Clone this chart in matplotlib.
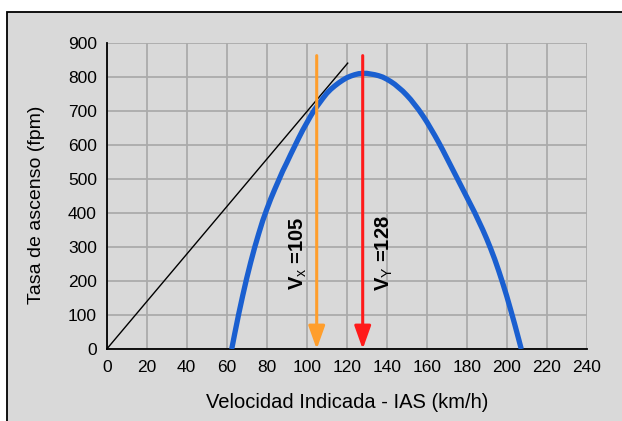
import numpy as np
import matplotlib.pyplot as plt
from matplotlib.patches import Rectangle

plt.rcParams['font.family'] = ['Liberation Sans', 'DejaVu Sans']
plt.rcParams['mathtext.fontset'] = 'custom'
plt.rcParams['mathtext.rm'] = 'Liberation Sans'
plt.rcParams['mathtext.bf'] = 'Liberation Sans:bold'

# rate of climb curve
ias = [62.5, 64, 66, 68, 70, 72, 74, 76, 78, 80, 82, 84, 86, 88, 90, 92, 94, 96, 98,
       100, 102, 104, 106, 108, 110, 112, 114, 116, 118, 120, 122, 124, 126, 128,
       130, 132, 134, 136, 138, 140, 142, 144, 146, 148, 150, 152, 154, 156, 158,
       160, 162, 164, 166, 168, 170, 172, 174, 176, 178, 180, 182, 184, 186, 188,
       190, 192, 194, 196, 198, 200, 202, 204, 206, 207.3]
roc = [0, 45, 103, 157, 208, 255, 299, 339, 377, 410, 441, 469, 496, 523, 547, 572, 596, 620, 643,
       664, 685, 704, 720, 736, 751, 763, 773, 782, 790, 797, 802, 806, 809, 810,
       810, 808, 806, 803, 799, 793, 786, 778, 768, 758, 746, 733, 718, 703, 686,
       668, 648, 628, 607, 585, 562, 539, 516, 493, 470, 447, 424, 401, 376, 351,
       324, 295, 264, 230, 194, 156, 115, 73, 29, 0]

tangent_x = [0, 120.5]
tangent_y = [0, 840]

vx = 105
vy = 128
arrow_top = 862

xticks = list(range(0, 241, 20))
yticks = list(range(0, 901, 100))

fig = plt.figure(figsize=(6.22, 4.21), dpi=100)
fig.patches.append(Rectangle((7 / 622, -0.1), 1.2, 1.1 - 12 / 421,
                             transform=fig.transFigure, facecolor='#d9d9d9',
                             edgecolor='black', linewidth=1.3, zorder=-5))
ax = fig.add_axes([106.7 / 622, 71.9 / 421, 480 / 622, 306.4 / 421])
ax.set_facecolor('#d9d9d9')

ax.set_xlim(0, 240)
ax.set_ylim(0, 900)
ax.set_xticks(xticks)
ax.set_yticks(yticks)
ax.grid(True, color='#ababab', linewidth=1.3)
ax.set_axisbelow(True)
for s in ['top', 'right']:
    ax.spines[s].set_visible(False)
for s in ['left', 'bottom']:
    ax.spines[s].set_linewidth(1.3)
ax.tick_params(length=0, labelsize=12.5)
ax.tick_params(axis='x', pad=8)
ax.tick_params(axis='y', pad=7)

ax.plot(tangent_x, tangent_y, color='black', linewidth=1, zorder=3)
ax.plot(ias, roc, color='#1a5fd0', linewidth=3.8, solid_capstyle='butt',
        solid_joinstyle='round', zorder=4)

ax.annotate('', xy=(vx, 0), xytext=(vx, arrow_top),
            arrowprops=dict(arrowstyle='-|>,head_length=1.4,head_width=0.5',
                            color='#ff9e2c', linewidth=2.2, shrinkA=0, shrinkB=0), zorder=5)
ax.annotate('', xy=(vy, 0), xytext=(vy, arrow_top),
            arrowprops=dict(arrowstyle='-|>,head_length=1.4,head_width=0.5',
                            color='#ff1a1a', linewidth=2.2, shrinkA=0, shrinkB=0), zorder=5)

ax.text(95.6, 282, r'$\mathbf{V}_{\mathrm{x}}$ =105', rotation=90, fontsize=14.5,
        fontweight='bold', ha='center', va='center', zorder=6)
ax.text(138.7, 282, r'$\mathbf{V}_{\mathrm{Y}}$ =128', rotation=90, fontsize=14.5,
        fontweight='bold', ha='center', va='center', zorder=6)

fig.text(346.7 / 622, 18 / 421, 'Velocidad Indicada - IAS (km/h)', fontsize=14.5,
         ha='center', va='center')
fig.text(37 / 622, 1 - 205 / 421, 'Tasa de ascenso (fpm)', fontsize=14,
         rotation=90, ha='center', va='center')

fig.savefig('out.png', dpi=100)
